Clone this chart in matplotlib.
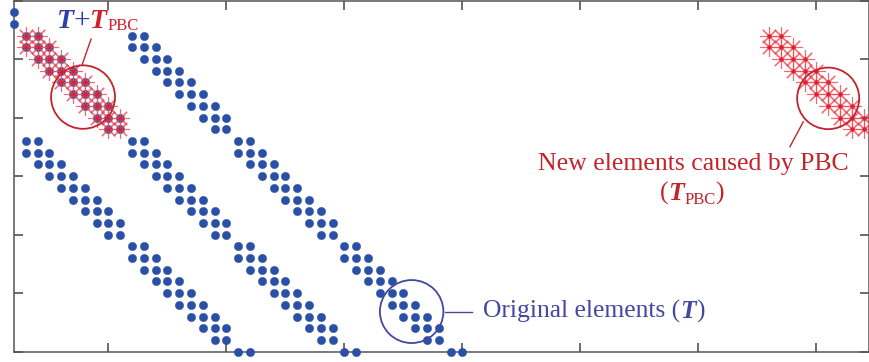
import matplotlib
matplotlib.use("Agg")
import matplotlib.pyplot as plt
from matplotlib.patches import Circle
from matplotlib.transforms import IdentityTransform

# ---- data: nonzero columns of each matrix row (row index = list index) ----
orig_cols = [
    [0],
    [0],
    [1, 2, 10, 11],
    [1, 2, 3, 10, 11, 12],
    [2, 3, 4, 11, 12, 13],
    [3, 4, 5, 12, 13, 14],
    [4, 5, 6, 13, 14, 15],
    [5, 6, 7, 14, 15, 16],
    [6, 7, 8, 15, 16, 17],
    [7, 8, 9, 16, 17, 18],
    [8, 9, 17, 18],
    [1, 2, 10, 11, 19, 20],
    [1, 2, 3, 10, 11, 12, 19, 20, 21],
    [2, 3, 4, 11, 12, 13, 20, 21, 22],
    [3, 4, 5, 12, 13, 14, 21, 22, 23],
    [4, 5, 6, 13, 14, 15, 22, 23, 24],
    [5, 6, 7, 14, 15, 16, 23, 24, 25],
    [6, 7, 8, 15, 16, 17, 24, 25, 26],
    [7, 8, 9, 16, 17, 18, 25, 26, 27],
    [8, 9, 17, 18, 26, 27],
    [10, 11, 19, 20, 28, 29],
    [10, 11, 12, 19, 20, 21, 28, 29, 30],
    [11, 12, 13, 20, 21, 22, 29, 30, 31],
    [12, 13, 14, 21, 22, 23, 30, 31, 32],
    [13, 14, 15, 22, 23, 24, 31, 32, 33],
    [14, 15, 16, 23, 24, 25, 32, 33, 34],
    [15, 16, 17, 24, 25, 26, 33, 34, 35],
    [16, 17, 18, 25, 26, 27, 34, 35, 36],
    [17, 18, 26, 27, 35, 36],
    [19, 20, 28, 29, 37, 38],
]
pbc_rows = [2, 3, 4, 5, 6, 7, 8, 9, 10]
pbc_cols = [
    [1, 2, 64, 65],
    [1, 2, 3, 64, 65, 66],
    [2, 3, 4, 65, 66, 67],
    [3, 4, 5, 66, 67, 68],
    [4, 5, 6, 67, 68, 69],
    [5, 6, 7, 68, 69, 70],
    [6, 7, 8, 69, 70, 71],
    [7, 8, 9, 70, 71, 72],
    [8, 9, 71, 72],
]
x_ticks = [8, 18, 28, 38, 48, 58, 68]
y_ticks = [-1, 4, 9, 14, 19, 24, 29]

BLUE = "#2a4fa6"
RED_MK = "#f24c58"
RED_TXT = "#c4232b"
BLUE_TXT = "#4448a0"
FONT = "Liberation Serif"

W, H = 869, 362
fig = plt.figure(figsize=(W / 100, H / 100), dpi=100)
ax = fig.add_axes([14 / W, 10.3 / H, 855 / W, 351.2 / H])
ax.set_xlim(0, 72.46)
ax.set_ylim(29, -1)

ox, oy = [], []
for r, cols in enumerate(orig_cols):
    ox += cols
    oy += [r] * len(cols)
ax.plot(ox, oy, "o", ms=6.0, color=BLUE, mec=BLUE, mew=0.3, ls="none",
        zorder=3, clip_on=False)

px, py = [], []
for r, cols in zip(pbc_rows, pbc_cols):
    px += cols
    py += [r] * len(cols)
ax.plot(px, py, marker=(8, 2, 0), ms=13.5, color=RED_MK, mew=0.8, ls="none",
        alpha=0.85, zorder=4, clip_on=False)
ax.plot(px, py, "o", ms=2.2, color="#e0202e", ls="none", zorder=5, clip_on=False)

ax.set_xticks(x_ticks)
ax.set_yticks(y_ticks)
ax.tick_params(direction="in", length=6.5, width=1.1, color="#444444",
               top=True, right=True, labelbottom=False, labelleft=False)
for s in ax.spines.values():
    s.set_color("#555555")
    s.set_linewidth(1.1)

# circles and leader lines (data coordinates)
ax.add_patch(Circle((5.85, 7.25), 2.71, fill=False, ec=RED_TXT, lw=1.3, zorder=6))
ax.add_patch(Circle((33.7, 25.57), 2.69, fill=False, ec=BLUE_TXT, lw=1.3, zorder=6))
ax.add_patch(Circle((69.0, 7.36), 2.63, fill=False, ec=RED_TXT, lw=1.3, zorder=6))
ax.plot([5.76, 6.53], [4.52, 2.30], color=RED_TXT, lw=1.0, zorder=6)
ax.plot([36.53, 38.79], [25.64, 25.64], color=BLUE_TXT, lw=1.0, zorder=6)
ax.plot([66.89, 65.76], [9.36, 11.49], color=RED_TXT, lw=1.0, zorder=6)

renderer = fig.canvas.get_renderer()


def chain(xd, yd, pieces, ha="left"):
    x0, y0 = ax.transData.transform((xd, yd))
    texts = []
    x = x0
    for s, kw, dy in pieces:
        t = fig.text(x, y0 - dy, s, transform=IdentityTransform(),
                     va="baseline", ha="left", family=FONT, **kw)
        bb = t.get_window_extent(renderer)
        texts.append((t, x, dy))
        x = bb.x1
    if ha == "center":
        shift = (x - x0) / 2
        for t, xx, dy in texts:
            t.set_x(xx - shift)


BI = dict(fontweight="bold", fontstyle="italic")
chain(3.64, 1.32, [
    ("T", dict(size=20, color="#2d3fae", **BI), 0),
    ("+", dict(size=21, color="#2d3fae"), 0),
    ("T", dict(size=20, color="#d0202c", **BI), 0),
    ("PBC", dict(size=12, color="#d0202c"), 2),
])
chain(39.75, 26.1, [
    ("Original elements (", dict(size=18.4, color=BLUE_TXT), 0),
    ("T", dict(size=18.4, color=BLUE_TXT, **BI), 0),
    (")", dict(size=18.4, color=BLUE_TXT), 0),
])
chain(57.6, 13.48, [
    ("New elements caused by PBC", dict(size=18.5, color=RED_TXT), 0),
], ha="center")
chain(57.46, 16.04, [
    ("(", dict(size=18.5, color=RED_TXT), 0),
    ("T", dict(size=18.5, color=RED_TXT, **BI), 0),
    ("PBC", dict(size=12, color=RED_TXT), 4),
    (")", dict(size=18.5, color=RED_TXT), 0),
], ha="center")

fig.savefig("out.png", dpi=100)
